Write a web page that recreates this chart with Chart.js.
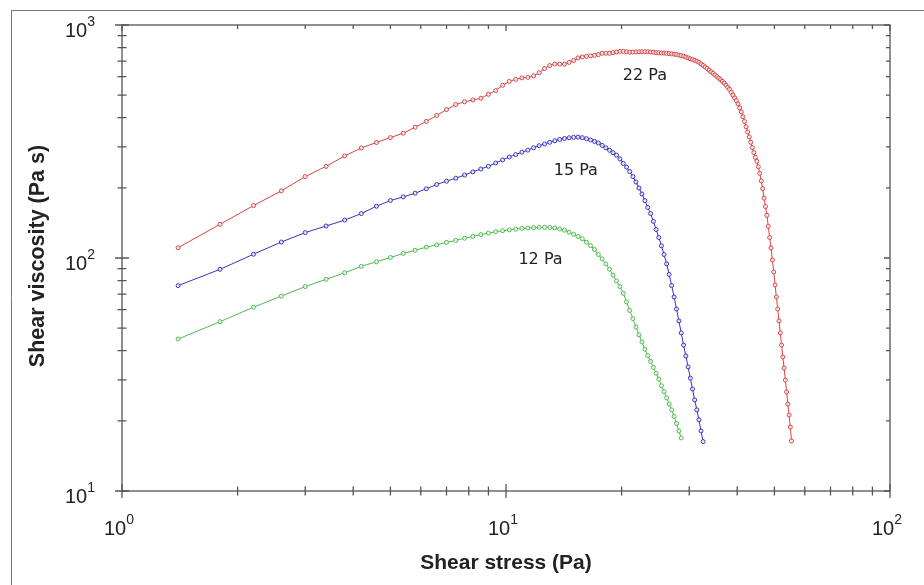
<!DOCTYPE html>
<html>
<head>
<meta charset="utf-8">
<script src="https://cdn.jsdelivr.net/npm/chart.js@4.4.1/dist/chart.umd.min.js"></script>
<style>
  html, body { margin: 0; padding: 0; background: #fff; }
  #wrap { width: 924px; height: 585px; }
</style>
</head>
<body>
<div id="wrap"><canvas id="chart" width="924" height="585"></canvas></div>
<script>
// shear stress ramp (Pa), shared by all three samples
const stress = [
  1.4, 1.8, 2.2, 2.6, 3.0, 3.4, 3.8, 4.2, 4.6, 5.0,
  5.4, 5.8, 6.2, 6.6, 7.0, 7.4, 7.8, 8.2, 8.6, 9.0,
  9.4, 9.8, 10.2, 10.6, 11.0, 11.4, 11.8, 12.2, 12.6, 13.0,
  13.4, 13.8, 14.2, 14.6, 15.0, 15.4, 15.8, 16.2, 16.6, 17.0,
  17.4, 17.8, 18.2, 18.6, 19.0, 19.4, 19.8, 20.2, 20.6, 21.0,
  21.4, 21.8, 22.2, 22.6, 23.0, 23.4, 23.8, 24.2, 24.6, 25.0,
  25.4, 25.8, 26.2, 26.6, 27.0, 27.4, 27.8, 28.2, 28.6, 29.0,
  29.4, 29.8, 30.2, 30.6, 31.0, 31.4, 31.8, 32.2, 32.6, 33.0,
  33.4, 33.8, 34.2, 34.6, 35.0, 35.4, 35.8, 36.2, 36.6, 37.0,
  37.4, 37.8, 38.2, 38.6, 39.0, 39.4, 39.8, 40.2, 40.6, 41.0,
  41.4, 41.8, 42.2, 42.6, 43.0, 43.4, 43.8, 44.2, 44.6, 45.0,
  45.4, 45.8, 46.2, 46.6, 47.0, 47.4, 47.8, 48.2, 48.6, 49.0,
  49.4, 49.8, 50.2, 50.6, 51.0, 51.4, 51.8, 52.2, 52.6, 53.0,
  53.4, 53.8, 54.2, 54.6, 55.0, 55.4
];

// shear viscosity (Pa s)
const visc22 = [
  110.7, 139.5, 167.9, 194.1, 223.6, 247.3, 274.3, 296.6, 313.1, 328.7,
  343.3, 364.3, 385.8, 408.9, 433.5, 455.5, 468.3, 476.7, 484.8, 504.3,
  523.1, 551.2, 572.8, 584.3, 592.9, 595.8, 604.7, 624.2, 650.1, 669.7,
  679.7, 679.0, 679.0, 691.2, 704.2, 722.6, 729.1, 733.4, 737.1, 740.6,
  746.6, 756.1, 756.1, 756.1, 760.6, 765.9, 770.5, 770.5, 767.4, 764.4,
  765.1, 766.6, 767.4, 768.1, 768.1, 768.1, 765.9, 764.4, 761.3, 759.9,
  758.4, 757.6, 756.1, 754.0, 751.6, 749.4, 746.6, 742.9, 739.3, 734.8,
  728.3, 722.6, 716.1, 711.2, 705.0, 699.3, 691.8, 680.8, 670.9, 661.0,
  651.3, 640.4, 630.3, 620.5, 610.8, 600.5, 591.6, 583.0, 573.9, 563.2,
  551.7, 539.9, 529.3, 514.4, 500.8, 486.6, 473.4, 458.6, 440.8, 423.6,
  404.0, 385.3, 365.7, 347.4, 330.7, 313.7, 297.8, 283.5, 270.3, 260.0,
  246.5, 230.7, 214.2, 198.4, 180.6, 166.3, 152.5, 136.7, 122.4, 110.4,
  98.0, 87.1, 76.6, 68.0, 60.4, 53.7, 47.7, 42.3, 37.6, 33.7,
  29.9, 26.6, 23.6, 21.2, 18.8, 16.4
];

const visc15 = [
  76.1, 89.4, 103.8, 117.1, 128.5, 137.2, 145.4, 155.1, 166.8, 176.5,
  182.9, 189.7, 198.2, 206.8, 213.6, 220.0, 227.1, 234.2, 241.0, 247.5,
  255.7, 263.6, 271.3, 277.8, 284.5, 290.4, 297.2, 303.4, 308.6, 313.8,
  318.7, 322.6, 325.8, 328.1, 329.4, 330.1, 328.4, 325.1, 321.0, 316.5,
  311.6, 304.3, 297.2, 290.1, 283.1, 276.4, 266.3, 254.7, 245.5, 234.9,
  223.6, 212.0, 199.7, 188.3, 176.2, 164.9, 155.1, 143.6, 132.5, 122.4,
  112.8, 103.5, 94.4, 85.0, 76.2, 68.0, 60.4, 53.7, 47.7, 42.3,
  38.0, 34.1, 30.5, 27.4, 24.6, 22.3, 20.2, 18.1, 16.3
];

const visc12 = [
  44.9, 53.3, 61.5, 68.6, 75.4, 81.0, 86.4, 92.1, 96.3, 100.5,
  104.6, 107.9, 111.3, 113.9, 116.7, 119.0, 121.6, 123.9, 126.0, 127.9,
  129.7, 131.0, 132.0, 132.9, 134.0, 134.5, 135.0, 135.3, 135.4, 135.3,
  134.6, 133.3, 131.7, 129.0, 126.4, 123.7, 121.0, 116.9, 113.0, 108.8,
  103.5, 99.1, 94.3, 89.5, 84.4, 79.8, 75.4, 70.6, 64.8, 59.5,
  54.9, 50.5, 46.8, 43.6, 40.6, 38.1, 36.0, 33.9, 32.0, 30.2,
  28.3, 26.7, 25.1, 23.6, 22.3, 20.9, 19.5, 18.1, 16.9
];

// ticks
const xMajor = [1, 10, 100];
const xMinor = [2, 3, 4, 5, 6, 7, 8, 9, 20, 30, 40, 50, 60, 70, 80, 90];
const yMajor = [10, 100, 1000];
const yMinor = [20, 30, 40, 50, 60, 70, 80, 90, 200, 300, 400, 500, 600, 700, 800, 900];
const xExp = ['0', '1', '2'];
const yExp = ['1', '2', '3'];

// curve labels (yield stress)
const curveLabels = ['22 Pa', '15 Pa', '12 Pa'];
const labelStress = [23.0, 15.2, 12.3];
const labelVisc = [604, 236, 98];

const RED = 'rgb(214, 68, 68)';
const BLUE = 'rgb(52, 52, 190)';
const GREEN = 'rgb(78, 186, 78)';

function toPoints(vals) {
    return vals.map((v, i) => ({ x: stress[i], y: v }));
}

function series(label, vals, color) {
    return {
        label: label,
        data: toPoints(vals),
        showLine: true,
        borderColor: color,
        borderWidth: 1,
        pointRadius: 2,
        pointBorderWidth: 1,
        pointBorderColor: color,
        pointBackgroundColor: 'rgba(255,255,255,0.7)'
    };
}

// draws "10" with a superscript exponent
function drawPow(ctx, exp, x, y, align) {
    ctx.font = '20px "Liberation Sans", Arial, sans-serif';
    const w1 = ctx.measureText('10').width;
    ctx.font = '14px "Liberation Sans", Arial, sans-serif';
    const w2 = ctx.measureText(exp).width;
    let left = x;
    if (align === 'center') left = x - (w1 + w2) / 2;
    if (align === 'right') left = x - (w1 + w2);
    ctx.textAlign = 'left';
    ctx.textBaseline = 'alphabetic';
    ctx.font = '20px "Liberation Sans", Arial, sans-serif';
    ctx.fillText('10', left, y);
    ctx.font = '14px "Liberation Sans", Arial, sans-serif';
    ctx.fillText(exp, left + w1, y - 11);
}

const axesPlugin = {
    id: 'axesPlugin',
    afterDraw(chart) {
        const ctx = chart.ctx;
        const a = chart.chartArea;
        const xs = chart.scales.x;
        const ys = chart.scales.y;
        ctx.save();

        // outer frame of the picture
        ctx.strokeStyle = '#777';
        ctx.lineWidth = 1;
        ctx.beginPath();
        ctx.moveTo(11.5, 585);
        ctx.lineTo(11.5, 10.5);
        ctx.lineTo(924, 10.5);
        ctx.stroke();

        // plot box
        ctx.strokeStyle = '#555';
        ctx.lineWidth = 1.3;
        ctx.strokeRect(a.left, a.top, a.right - a.left, a.bottom - a.top);

        ctx.beginPath();
        xMajor.forEach(v => {
            const px = xs.getPixelForValue(v);
            ctx.moveTo(px, a.bottom - 7); ctx.lineTo(px, a.bottom + 7);
            ctx.moveTo(px, a.top); ctx.lineTo(px, a.top + 6);
        });
        xMinor.forEach(v => {
            const px = xs.getPixelForValue(v);
            ctx.moveTo(px, a.bottom - 4.5); ctx.lineTo(px, a.bottom + 4.5);
            ctx.moveTo(px, a.top); ctx.lineTo(px, a.top + 4);
        });
        yMajor.forEach(v => {
            const py = ys.getPixelForValue(v);
            ctx.moveTo(a.left - 7, py); ctx.lineTo(a.left + 7, py);
            ctx.moveTo(a.right, py); ctx.lineTo(a.right - 6, py);
        });
        yMinor.forEach(v => {
            const py = ys.getPixelForValue(v);
            ctx.moveTo(a.left - 4.5, py); ctx.lineTo(a.left + 4.5, py);
            ctx.moveTo(a.right, py); ctx.lineTo(a.right - 4, py);
        });
        ctx.stroke();

        // tick labels
        ctx.fillStyle = '#222';
        xMajor.forEach((v, i) => {
            drawPow(ctx, xExp[i], xs.getPixelForValue(v) - 3, a.bottom + 44, 'center');
        });
        yMajor.forEach((v, i) => {
            drawPow(ctx, yExp[i], a.left - 27, ys.getPixelForValue(v) + 12, 'right');
        });

        // axis titles
        ctx.fillStyle = '#222';
        ctx.font = 'bold 21px "Liberation Sans", Arial, sans-serif';
        ctx.textAlign = 'center';
        ctx.textBaseline = 'middle';
        ctx.fillText('Shear stress (Pa)', (a.left + a.right) / 2, 563);
        ctx.save();
        ctx.translate(38, 256);
        ctx.rotate(-Math.PI / 2);
        ctx.font = 'bold 21.5px "Liberation Sans", Arial, sans-serif';
        ctx.fillText('Shear viscosity (Pa s)', 0, 0);
        ctx.restore();

        // curve labels
        ctx.font = '16px "DejaVu Sans", sans-serif';
        ctx.fillStyle = '#222';
        curveLabels.forEach((t, i) => {
            ctx.fillText(t, xs.getPixelForValue(labelStress[i]), ys.getPixelForValue(labelVisc[i]));
        });

        ctx.restore();
    }
};

new Chart(document.getElementById('chart'), {
    type: 'scatter',
    data: {
        datasets: [
            series('22 Pa', visc22, RED),
            series('15 Pa', visc15, BLUE),
            series('12 Pa', visc12, GREEN)
        ]
    },
    options: {
        responsive: false,
        animation: false,
        layout: { padding: { left: 122, right: 34, top: 25, bottom: 94 } },
        scales: {
            x: { type: 'logarithmic', min: 1, max: 100, display: false },
            y: { type: 'logarithmic', min: 10, max: 1000, display: false }
        },
        plugins: {
            legend: { display: false },
            tooltip: { enabled: false }
        }
    },
    plugins: [axesPlugin]
});
</script>
</body>
</html>
